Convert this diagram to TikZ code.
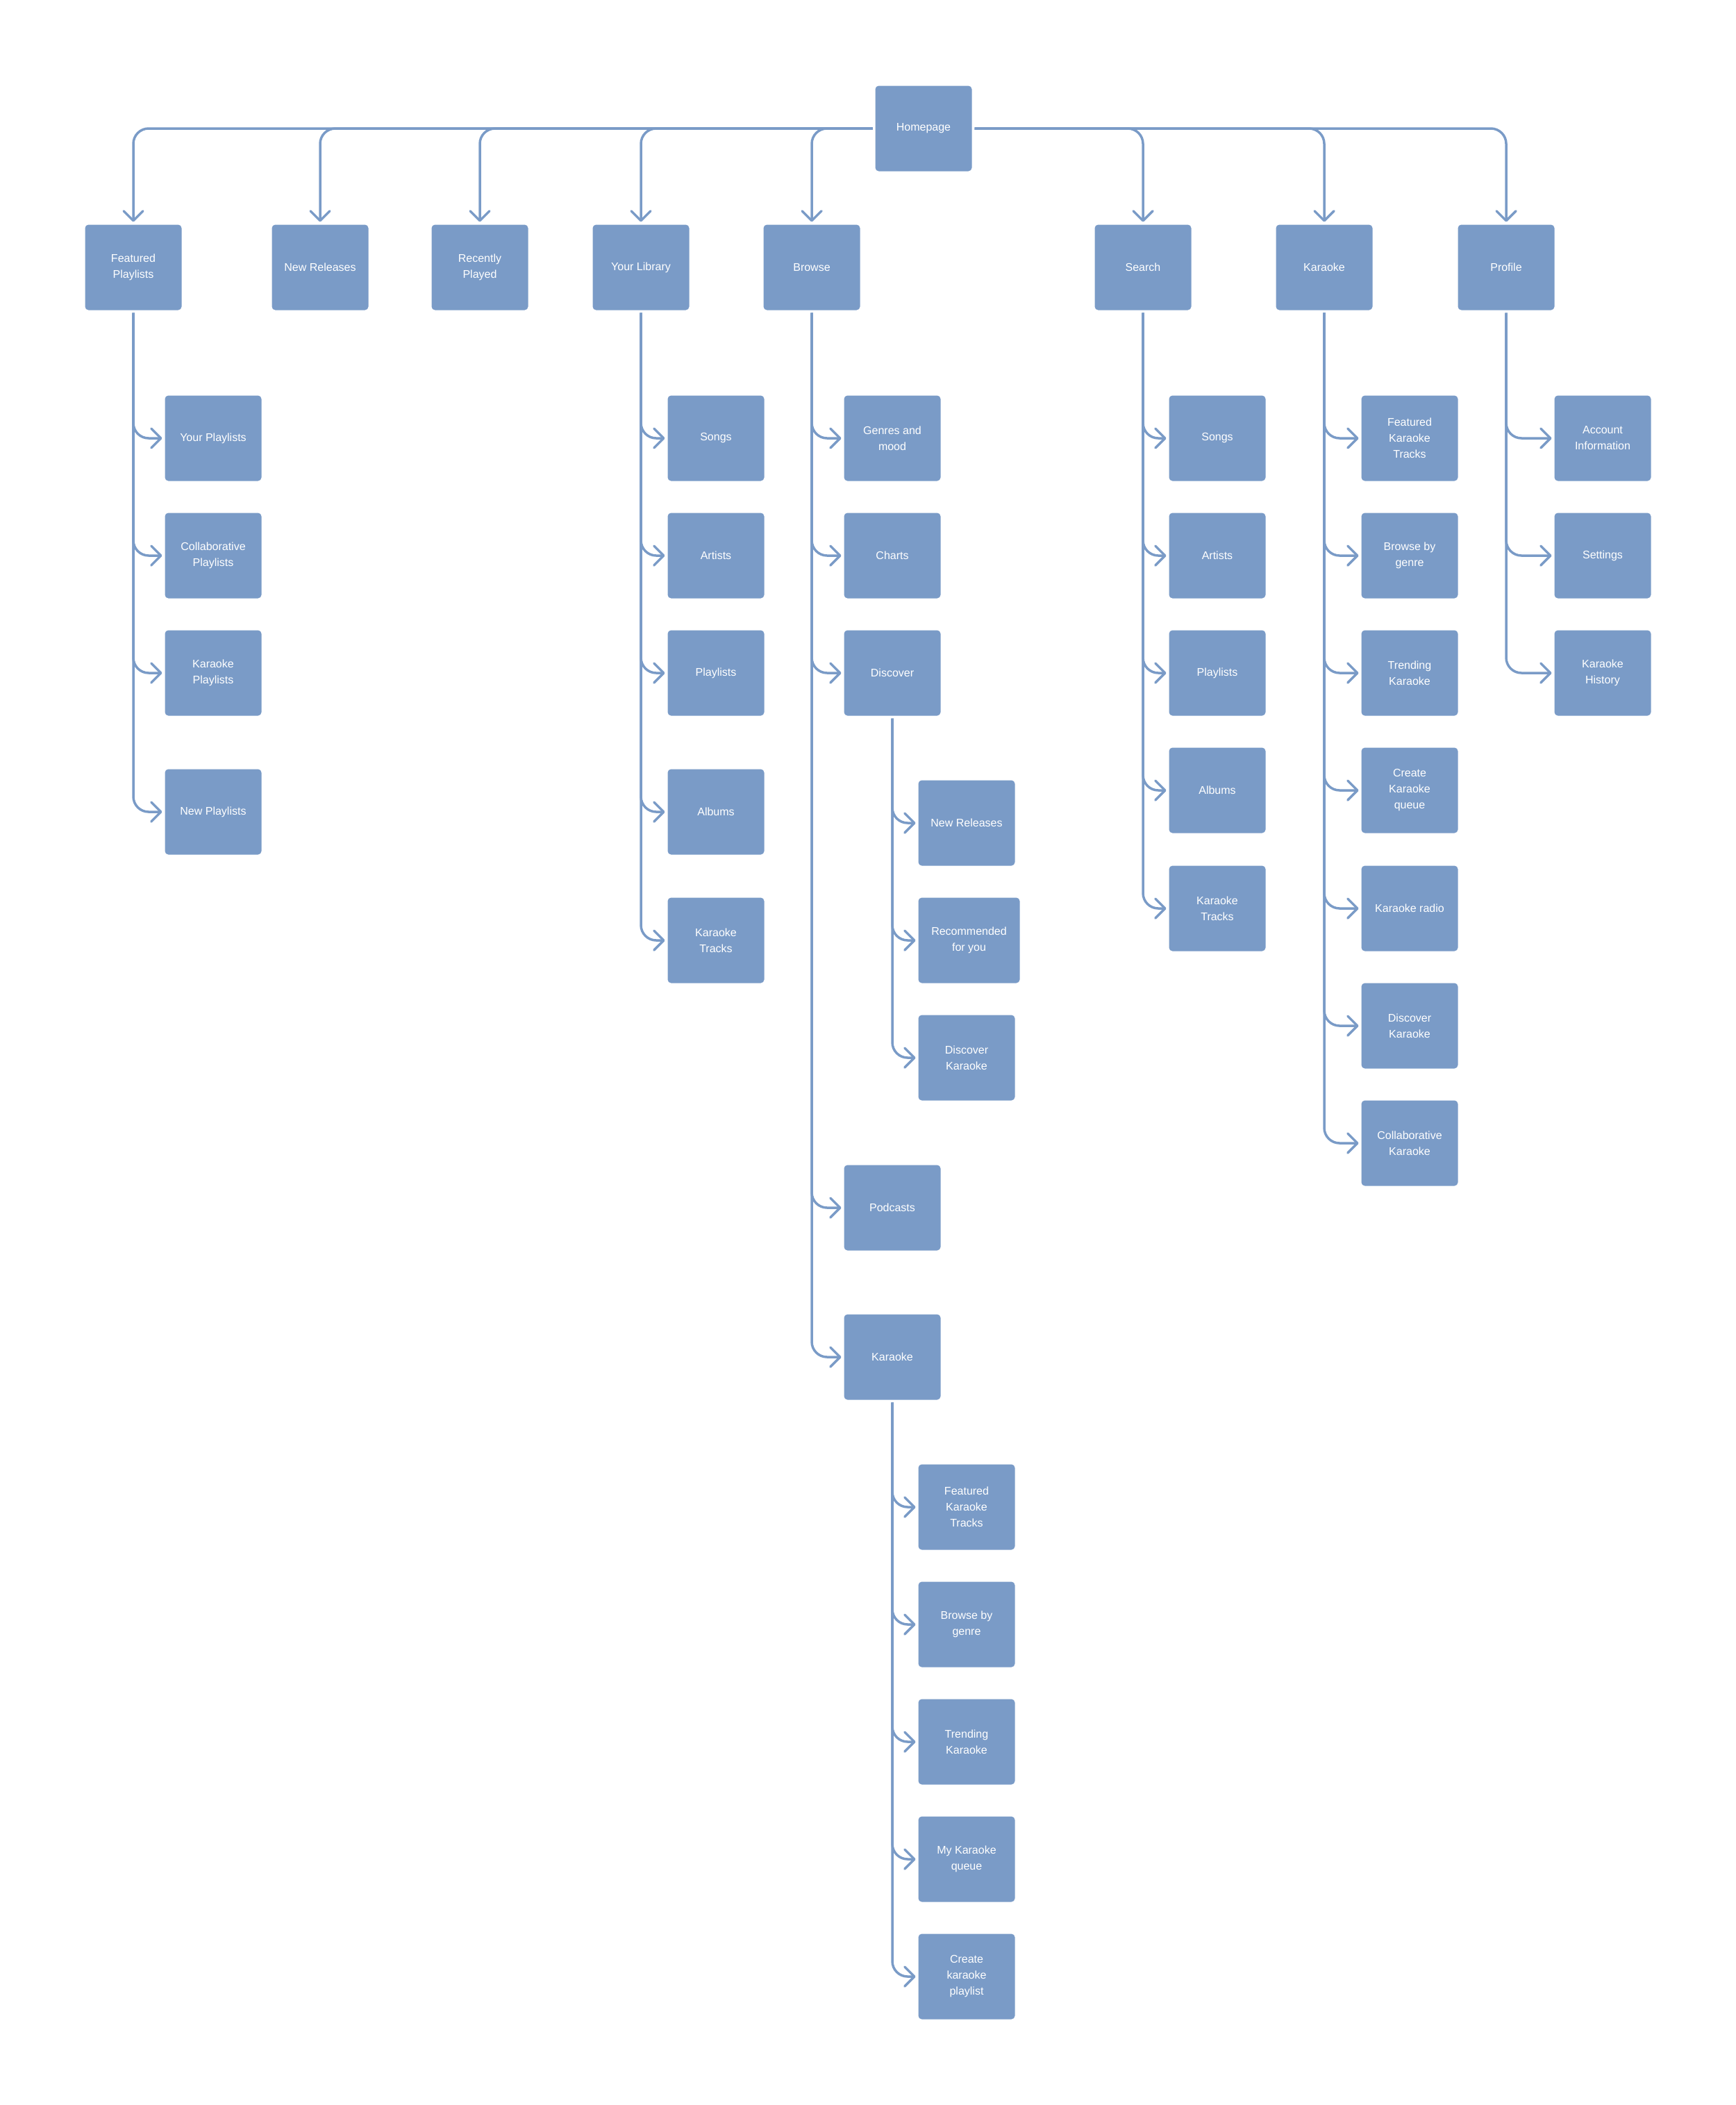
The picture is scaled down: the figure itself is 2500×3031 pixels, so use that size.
\documentclass[tikz,border=0pt]{standalone}
\usepackage{fontspec}
\setmainfont{Liberation Sans}
\usetikzlibrary{arrows.meta}
\definecolor{boxblue}{HTML}{7A9BC7}
\begin{document}
\begin{tikzpicture}[x=1pt, y=-1pt,
    page/.style={rectangle, fill=boxblue, rounded corners=5pt, minimum width=139pt,
        minimum height=123pt, inner sep=0pt, outer sep=4pt, text=white, align=center,
        font=\fontsize{16}{23}\selectfont},
    link/.style={draw=boxblue, line width=3.5pt, rounded corners=22pt,
        -{Straight Barb[length=14pt, width=28pt, round]}}]
    \useasboundingbox (0,0) rectangle (2500,3031);
    % top level
    \node[page] (home) at (1330,185) {Homepage};
    \node[page] (fp)   at (192,385)  {Featured\\Playlists};
    \node[page] (nr)   at (461,385)  {New Releases};
    \node[page] (rp)   at (691,385)  {Recently\\Played};
    \node[page] (lib)  at (923,385)  {Your Library};
    \node[page] (brw)  at (1169,385) {Browse};
    \node[page] (srch) at (1646,385) {Search};
    \node[page] (kar)  at (1907,385) {Karaoke};
    \node[page] (prof) at (2169,385) {Profile};
    % featured playlists
    \node[page] (yp) at (307,631)  {Your Playlists};
    \node[page] (cp) at (307,800)  {Collaborative\\Playlists};
    \node[page] (kp) at (307,969)  {Karaoke\\Playlists};
    \node[page] (np) at (307,1169) {New Playlists};
    % your library
    \node[page] (lsongs)   at (1031,631)  {Songs};
    \node[page] (lartists) at (1031,800)  {Artists};
    \node[page] (lplay)    at (1031,969)  {Playlists};
    \node[page] (lalbums)  at (1031,1169) {Albums};
    \node[page] (ltracks)  at (1031,1354) {Karaoke\\Tracks};
    % browse
    \node[page] (genres) at (1285,631)  {Genres and\\mood};
    \node[page] (charts) at (1285,800)  {Charts};
    \node[page] (disc)   at (1285,969)  {Discover};
    \node[page] (pod)    at (1285,1739) {Podcasts};
    \node[page] (bkar)   at (1285,1954) {Karaoke};
    \node[page] (dnew) at (1392,1185) {New Releases};
    \node[page, minimum width=146pt] (drec) at (1395.5,1354) {Recommended\\for you};
    \node[page] (dkar) at (1392,1523) {Discover\\Karaoke};
    \node[page] (bfeat)   at (1392,2170) {Featured\\Karaoke\\Tracks};
    \node[page] (bgenre)  at (1392,2339) {Browse by\\genre};
    \node[page] (btrend)  at (1392,2508) {Trending\\Karaoke};
    \node[page] (bqueue)  at (1392,2677) {My Karaoke\\queue};
    \node[page] (bcreate) at (1392,2846) {Create\\karaoke\\playlist};
    % search
    \node[page] (ssongs)   at (1753,631)  {Songs};
    \node[page] (sartists) at (1753,800)  {Artists};
    \node[page] (splay)    at (1753,969)  {Playlists};
    \node[page] (salbums)  at (1753,1138) {Albums};
    \node[page] (stracks)  at (1753,1308) {Karaoke\\Tracks};
    % karaoke
    \node[page] (kfeat)   at (2030,631)  {Featured\\Karaoke\\Tracks};
    \node[page] (kgenre)  at (2030,800)  {Browse by\\genre};
    \node[page] (ktrend)  at (2030,969)  {Trending\\Karaoke};
    \node[page] (kqueue)  at (2030,1138) {Create\\Karaoke\\queue};
    \node[page] (kradio)  at (2030,1308) {Karaoke radio};
    \node[page] (kdisc)   at (2030,1477) {Discover\\Karaoke};
    \node[page] (kcollab) at (2030,1646) {Collaborative\\Karaoke};
    % profile
    \node[page] (acct)  at (2308,631) {Account\\Information};
    \node[page] (sett)  at (2308,800) {Settings};
    \node[page] (khist) at (2308,969) {Karaoke\\History};

    \draw[link] (home.west) -| (fp.north);
    \draw[link] (home.west) -| (nr.north);
    \draw[link] (home.west) -| (rp.north);
    \draw[link] (home.west) -| (lib.north);
    \draw[link] (home.west) -| (brw.north);
    \draw[link] (home.east) -| (srch.north);
    \draw[link] (home.east) -| (kar.north);
    \draw[link] (home.east) -| (prof.north);

    \draw[link] (fp.south) |- (yp.west);
    \draw[link] (fp.south) |- (cp.west);
    \draw[link] (fp.south) |- (kp.west);
    \draw[link] (fp.south) |- (np.west);

    \draw[link] (lib.south) |- (lsongs.west);
    \draw[link] (lib.south) |- (lartists.west);
    \draw[link] (lib.south) |- (lplay.west);
    \draw[link] (lib.south) |- (lalbums.west);
    \draw[link] (lib.south) |- (ltracks.west);

    \draw[link] (brw.south) |- (genres.west);
    \draw[link] (brw.south) |- (charts.west);
    \draw[link] (brw.south) |- (disc.west);
    \draw[link] (brw.south) |- (pod.west);
    \draw[link] (brw.south) |- (bkar.west);

    \draw[link] (disc.south) |- (dnew.west);
    \draw[link] (disc.south) |- (drec.west);
    \draw[link] (disc.south) |- (dkar.west);

    \draw[link] (bkar.south) |- (bfeat.west);
    \draw[link] (bkar.south) |- (bgenre.west);
    \draw[link] (bkar.south) |- (btrend.west);
    \draw[link] (bkar.south) |- (bqueue.west);
    \draw[link] (bkar.south) |- (bcreate.west);

    \draw[link] (srch.south) |- (ssongs.west);
    \draw[link] (srch.south) |- (sartists.west);
    \draw[link] (srch.south) |- (splay.west);
    \draw[link] (srch.south) |- (salbums.west);
    \draw[link] (srch.south) |- (stracks.west);

    \draw[link] (kar.south) |- (kfeat.west);
    \draw[link] (kar.south) |- (kgenre.west);
    \draw[link] (kar.south) |- (ktrend.west);
    \draw[link] (kar.south) |- (kqueue.west);
    \draw[link] (kar.south) |- (kradio.west);
    \draw[link] (kar.south) |- (kdisc.west);
    \draw[link] (kar.south) |- (kcollab.west);

    \draw[link] (prof.south) |- (acct.west);
    \draw[link] (prof.south) |- (sett.west);
    \draw[link] (prof.south) |- (khist.west);
\end{tikzpicture}
\end{document}
